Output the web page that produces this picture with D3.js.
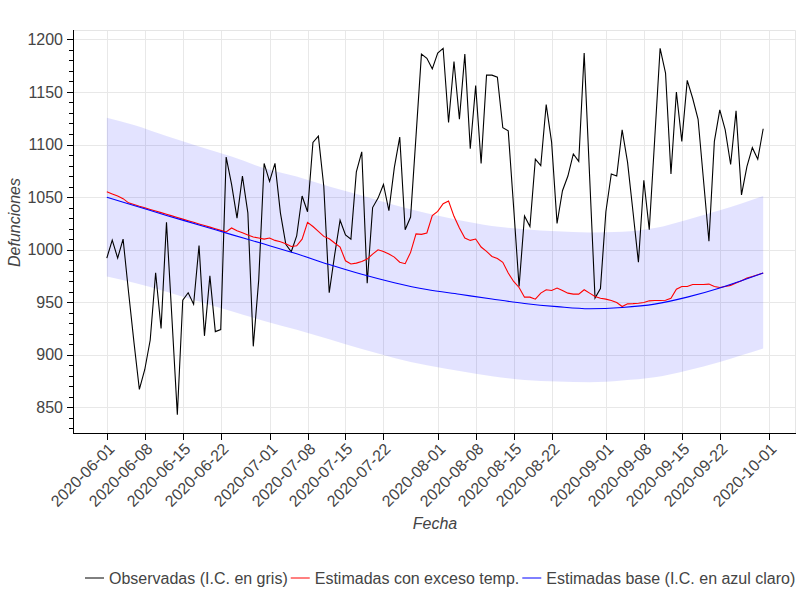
<!DOCTYPE html>
<html>
<head>
<meta charset="utf-8">
<script src="https://cdn.jsdelivr.net/npm/d3@7"></script>
<style>
  html, body { margin: 0; padding: 0; background: #fff; }
  svg { display: block; }
  text { font-family: "Liberation Sans", Arial, Helvetica, sans-serif; }
</style>
</head>
<body>
<svg id="chart" width="800" height="600"></svg>
<script>
// ---------------- DATA ----------------
const startDate = "2020-06-01";
const tickDates = ["2020-06-01","2020-06-08","2020-06-15","2020-06-22","2020-07-01","2020-07-08",
  "2020-07-15","2020-07-22","2020-08-01","2020-08-08","2020-08-15","2020-08-22","2020-09-01",
  "2020-09-08","2020-09-15","2020-09-22","2020-10-01"];
const yTicks = [850, 900, 950, 1000, 1050, 1100, 1150, 1200];

// Observed deaths (daily, from 2020-06-01)
const observed = [
  992, 1009, 992, 1010, 960, 912, 867, 886, 914, 978,
  925, 1026, 935, 843, 952, 959, 948, 1004, 918, 975,
  922, 924, 1088, 1062, 1030, 1070, 1035, 908, 971, 1082,
  1065, 1082, 1035, 1005, 998, 1013, 1051, 1036, 1102, 1108,
  1060, 959, 995, 1028, 1014, 1010, 1074, 1093, 968, 1040,
  1049, 1062, 1037, 1078, 1107, 1019, 1031, 1108, 1186, 1182,
  1172, 1187, 1191.5, 1121, 1179, 1124, 1186, 1096, 1156, 1082,
  1166, 1166, 1164, 1116, 1113, 1040, 965, 1032, 1022, 1086,
  1080, 1138, 1102, 1025, 1056, 1070, 1091, 1084, 1187, 1070,
  954, 963, 1036, 1072, 1070, 1114, 1083, 1036, 988, 1066,
  1019, 1105, 1191.5, 1168, 1072, 1150, 1103, 1161, 1144, 1124,
  1066, 1008, 1103, 1133, 1114, 1081, 1132, 1052, 1079, 1097,
  1086, 1115
];

// Estimated with excess temperature (daily)
const estimatedExcess = [
  1055, 1053, 1051, 1048.5, 1044.5, 1043, 1041.3, 1039.8, 1038.2, 1036.7,
  1035.2, 1033.6, 1032.1, 1030.6, 1029, 1027.5, 1026, 1024.4, 1022.9, 1021.4,
  1019.8, 1018.3, 1016.8, 1020.6, 1018, 1016, 1014, 1012, 1011, 1010,
  1011, 1008.8, 1007.5, 1005.6, 1003, 1003.7, 1010, 1026, 1022, 1017.4,
  1012.6, 1010.4, 1006.3, 1002.5, 989.4, 986.3, 987.2, 988.8, 991, 995.8,
  999.9, 998.3, 995.8, 992.9, 988, 986.6, 997.4, 1015, 1014.5, 1015.8,
  1032.3, 1036.4, 1043.7, 1046.3, 1031.7, 1020.6, 1011, 1008.8, 1010.1, 1002.5,
  998.3, 993.5, 991.6, 988, 977.7, 969.7, 964, 954.8, 954.8, 952.9,
  958.6, 961.8, 961.1, 963.4, 961.1, 958.6, 957.7, 957.7, 961.8, 958.6,
  955.4, 953.8, 952.9, 951.6, 949.7, 945.9, 948.4, 948.6, 949, 949.7,
  951.3, 951.6, 951.6, 951.8, 953.8, 962.4, 965, 965, 966.9, 966.9,
  966.9, 967.2, 965, 964, 965, 966, 968.2, 970.4, 972.9, 974.5,
  976.1, 977.7
];

// Base estimate and its confidence band (sampled days since 2020-06-01)
const baseDays = [0, 5, 11, 17, 23, 29, 35, 41, 47, 53, 59, 65, 71, 77, 83, 89, 95, 101, 107, 113, 117, 121];
const baseValues = [1049.8, 1042, 1032.5, 1023.5, 1014.3, 1005.3, 996, 985.8, 976.5, 968.5, 962,
  957.5, 953, 948.8, 945.8, 943.8, 945, 948.2, 954.8, 963.5, 970.5, 977.7];
const bandUpper = [1125.5, 1118.5, 1108, 1098, 1088.5, 1077.5, 1069.5, 1060, 1051.5, 1042.5, 1034.5,
  1028, 1022.5, 1019.5, 1017.5, 1016.4, 1017, 1020.5, 1028.5, 1037.5, 1044, 1051];
const bandLower = [974.5, 968.5, 960, 950.6, 941.3, 932.2, 923.7, 914.8, 905.5, 897, 890,
  884.5, 879.5, 876, 874.5, 873.8, 875.5, 878.5, 885, 893, 899.5, 906];

const legendLabels = ["Observadas (I.C. en gris)", "Estimadas con exceso temp.", "Estimadas base (I.C. en azul claro)"];
const seriesColors = ["#000000", "#ff0000", "#0000ff"];

// ---------------- CHART ----------------
const svg = d3.select("#chart");
svg.append("rect").attr("width", 800).attr("height", 600).attr("fill", "#fff");

const frame = { left: 74, right: 796, top: 30, bottom: 433 };
const parse = d3.utcParse("%Y-%m-%d");
const t0 = parse(startDate);
const dayDate = i => d3.utcDay.offset(t0, i);

const obsData = observed.map((v, i) => ({ date: dayDate(i), v }));
const exData = estimatedExcess.map((v, i) => ({ date: dayDate(i), v }));
const baseData = baseDays.map((d, i) => ({ date: dayDate(d), v: baseValues[i], hi: bandUpper[i], lo: bandLower[i] }));

// Ranges with 5% padding each side (like Bokeh DataRange1d)
const tMin = +dayDate(0), tMax = +dayDate(observed.length - 1);
const tPad = (tMax - tMin) * 0.05;
const x = d3.scaleUtc().domain([new Date(tMin - tPad), new Date(tMax + tPad)]).range([frame.left, frame.right]);

const allY = observed.concat(estimatedExcess, baseValues, bandUpper, bandLower);
const [yLo, yHi] = d3.extent(allY);
const yPad = (yHi - yLo) * 0.05;
const y = d3.scaleLinear().domain([yLo - yPad, yHi + yPad]).range([frame.bottom, frame.top]);

const gridColor = "#e8e8e8";
const textColor = "#444";

// grid
const grid = svg.append("g");
tickDates.forEach(s => {
  const xx = Math.round(x(parse(s))) + 0.5;
  grid.append("line").attr("x1", xx).attr("x2", xx).attr("y1", frame.top).attr("y2", frame.bottom)
    .attr("stroke", gridColor).attr("stroke-width", 1);
});
yTicks.forEach(v => {
  const yy = Math.round(y(v)) + 0.5;
  grid.append("line").attr("x1", frame.left).attr("x2", frame.right).attr("y1", yy).attr("y2", yy)
    .attr("stroke", gridColor).attr("stroke-width", 1);
});
// outline (top/right)
svg.append("path")
  .attr("d", `M${frame.left},${frame.top + 0.5}H${frame.right - 0.5}V${frame.bottom}`)
  .attr("fill", "none").attr("stroke", "#e5e5e5");

// band
const area = d3.area().x(d => x(d.date)).y0(d => y(d.lo)).y1(d => y(d.hi)).curve(d3.curveMonotoneX);
svg.append("path").datum(baseData).attr("d", area).attr("fill", "rgba(0,0,255,0.11)");

// lines
const line = d3.line().x(d => x(d.date)).y(d => y(d.v));
svg.append("path").datum(obsData).attr("d", line).attr("fill", "none").attr("stroke", seriesColors[0]).attr("stroke-width", 1.1);
svg.append("path").datum(exData).attr("d", line).attr("fill", "none").attr("stroke", seriesColors[1]).attr("stroke-width", 1.1);
svg.append("path").datum(baseData).attr("d", line.curve(d3.curveMonotoneX)).attr("fill", "none").attr("stroke", seriesColors[2]).attr("stroke-width", 1.1);

// axes
const axisG = svg.append("g");
axisG.append("line").attr("x1", frame.left - 0.5).attr("x2", frame.left - 0.5).attr("y1", frame.top).attr("y2", frame.bottom + 1)
  .attr("stroke", "#000");
axisG.append("line").attr("x1", frame.left - 1).attr("x2", frame.right).attr("y1", frame.bottom + 0.5).attr("y2", frame.bottom + 0.5)
  .attr("stroke", "#000");

// y ticks (major + minor)
const [d0, d1] = y.domain();
for (let v = Math.ceil(d0 / 10) * 10; v <= d1; v += 10) {
  const yy = Math.round(y(v)) + 0.5;
  const major = yTicks.includes(v);
  axisG.append("line").attr("x1", frame.left - (major ? 7 : 5)).attr("x2", frame.left).attr("y1", yy).attr("y2", yy)
    .attr("stroke", "#000");
}
yTicks.forEach(v => {
  axisG.append("text").attr("x", frame.left - 11).attr("y", y(v)).attr("dy", "0.35em")
    .attr("text-anchor", "end").attr("font-size", 16).attr("fill", textColor).text(v);
});

// x ticks
tickDates.forEach(s => {
  const xx = Math.round(x(parse(s))) + 0.5;
  axisG.append("line").attr("x1", xx).attr("x2", xx).attr("y1", frame.bottom).attr("y2", frame.bottom + 7)
    .attr("stroke", "#000");
  axisG.append("text")
    .attr("transform", `translate(${xx + 4},${frame.bottom + 13}) rotate(-45)`)
    .attr("text-anchor", "end").attr("dy", "0.35em")
    .attr("font-size", 16).attr("fill", textColor).text(s);
});

// axis labels
svg.append("text").attr("x", (frame.left + frame.right) / 2).attr("y", 529)
  .attr("text-anchor", "middle").attr("font-size", 16).attr("font-style", "italic").attr("fill", textColor).text("Fecha");
svg.append("text").attr("transform", `translate(20,${(frame.top + frame.bottom) / 2 - 9}) rotate(-90)`)
  .attr("text-anchor", "middle").attr("font-size", 16).attr("font-style", "italic").attr("fill", textColor).text("Defunciones");

// legend
const lg = svg.append("g");
let lx = 85;
const ly = 578;
legendLabels.forEach((lab, i) => {
  lg.append("line").attr("x1", lx).attr("x2", lx + 19).attr("y1", ly).attr("y2", ly)
    .attr("stroke", seriesColors[i]).attr("stroke-width", 1);
  const t = lg.append("text").attr("x", lx + 24).attr("y", ly).attr("dy", "0.35em")
    .attr("font-size", 16).attr("fill", textColor).text(lab);
  lx = lx + 24 + t.node().getComputedTextLength() + 3;
});
</script>
</body>
</html>
